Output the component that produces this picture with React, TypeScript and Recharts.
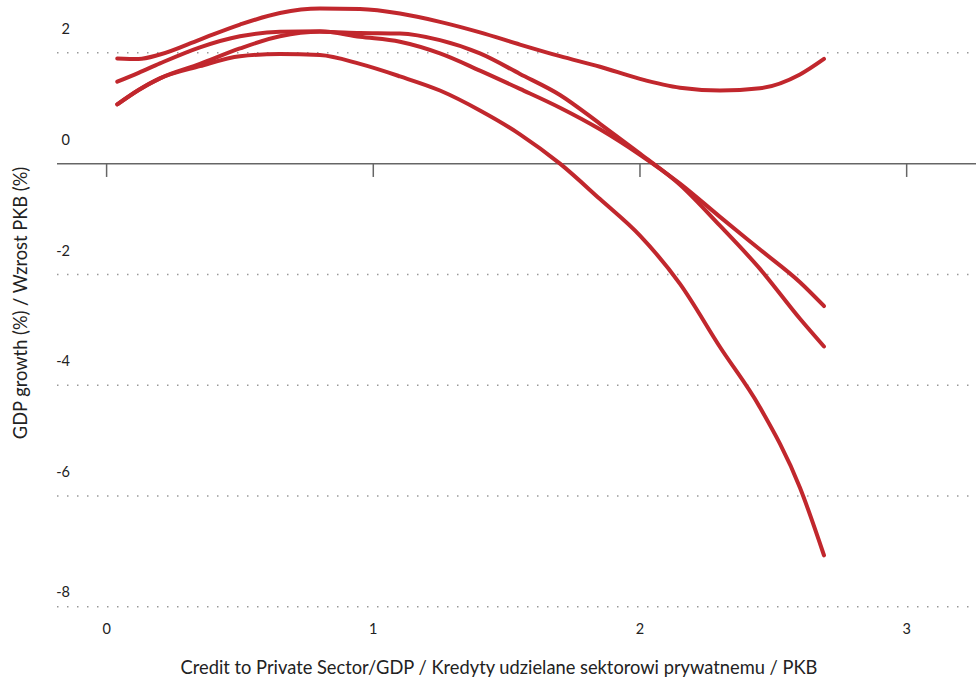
import { Line, LineChart, ReferenceLine, XAxis, YAxis } from 'recharts';

// credit-to-GDP ratio at which each fitted curve is sampled
const creditRatio = [0.04, 0.12, 0.2, 0.35, 0.5, 0.65, 0.8, 0.95, 1.1, 1.25, 1.4, 1.55, 1.7, 1.85, 2.0, 2.15, 2.3, 2.45, 2.6, 2.69];

// GDP growth (%) for the four fitted curves
const curve1 = [1.9, 1.89, 1.97, 2.24, 2.51, 2.72, 2.8, 2.79, 2.71, 2.56, 2.37, 2.15, 1.94, 1.75, 1.53, 1.37, 1.32, 1.36, 1.61, 1.89];
const curve2 = [1.48, 1.64, 1.81, 2.1, 2.3, 2.38, 2.39, 2.29, 2.2, 1.99, 1.68, 1.35, 1.01, 0.62, 0.16, -0.36, -0.96, -1.55, -2.14, -2.57];
const curve3 = [1.07, 1.33, 1.54, 1.8, 2.08, 2.3, 2.38, 2.36, 2.35, 2.23, 1.99, 1.62, 1.24, 0.72, 0.18, -0.38, -1.12, -1.9, -2.8, -3.3];
const curve4 = [1.07, 1.33, 1.54, 1.76, 1.94, 1.98, 1.96, 1.8, 1.575, 1.32, 0.96, 0.53, 0.0, -0.64, -1.3, -2.17, -3.31, -4.4, -5.85, -7.07];

const xTicks = [0, 1, 2, 3];
const yTicks = [-8, -6, -4, -2, 0, 2];
const gridLevels = [-8, -6, -4, -2, 2];

const xTitle = 'Credit to Private Sector/GDP / Kredyty udzielane sektorowi prywatnemu / PKB';
const yTitle = 'GDP growth (%) / Wzrost PKB (%)';

const data = creditRatio.map((x, i) => ({
  x,
  c1: curve1[i],
  c2: curve2[i],
  c3: curve3[i],
  c4: curve4[i],
}));

const RED = '#c1272d';
const FONT = 'Lato, "Open Sans", sans-serif';

// labels sit above their gridline; the lowest one hugs it a bit closer
const YTick = ({ x, y, payload }) => (
  <text
    x={x + 13}
    y={y - (payload.value === yTicks[0] ? 15 : 24)}
    dy="0.35em"
    textAnchor="end"
    fontSize={14.5}
    fontFamily={FONT}
    fill="#222"
  >
    {payload.value}
  </text>
);

const XTick = ({ x, y, payload }) => (
  <text x={x} y={y} dy="0.35em" textAnchor="middle" fontSize={14.5} fontFamily={FONT} fill="#222">
    {payload.value}
  </text>
);

export default function App() {
  return (
    <div style={{ position: 'absolute', left: 0, top: 0, width: 976, height: 679, background: '#fff' }}>
      <LineChart width={976} height={679} data={data} margin={{ top: 3, right: 0, bottom: 20, left: 0 }}>
        <XAxis
          dataKey="x"
          type="number"
          domain={[-0.186, 3.26]}
          allowDataOverflow
          ticks={xTicks}
          axisLine={false}
          tickLine={false}
          tickSize={0}
          tickMargin={0}
          height={30}
          tick={<XTick />}
        />
        <YAxis
          type="number"
          domain={[-8.4, 2.9]}
          allowDataOverflow
          ticks={yTicks}
          axisLine={false}
          tickLine={false}
          tickSize={0}
          tickMargin={0}
          width={57}
          tick={<YTick />}
        />
        {gridLevels.map((v) => (
          <ReferenceLine key={v} y={v} stroke="#999" strokeWidth={1.5} strokeDasharray="1.5 8.5" />
        ))}
        <ReferenceLine y={0} stroke="#666" strokeWidth={1.5} />
        {xTicks.map((t) => (
          <ReferenceLine
            key={t}
            segment={[
              { x: t, y: 0 },
              { x: t, y: -0.24 },
            ]}
            stroke="#666"
            strokeWidth={1.5}
          />
        ))}
        {['c1', 'c2', 'c3', 'c4'].map((k) => (
          <Line
            key={k}
            dataKey={k}
            type="monotone"
            stroke={RED}
            strokeWidth={4}
            strokeLinecap="round"
            dot={false}
            activeDot={false}
            isAnimationActive={false}
          />
        ))}
      </LineChart>
      <div
        style={{
          position: 'absolute',
          left: 0,
          width: 976,
          top: 655,
          textAlign: 'center',
          paddingLeft: 22,
          boxSizing: 'border-box',
          fontFamily: FONT,
          fontSize: 18.3,
          color: '#222',
          lineHeight: '24px',
        }}
      >
        {xTitle}
      </div>
      <div
        style={{
          position: 'absolute',
          left: 20,
          top: 303,
          transform: 'translate(-50%, -50%) rotate(-90deg)',
          whiteSpace: 'nowrap',
          fontFamily: FONT,
          fontSize: 18.3,
          color: '#222',
          lineHeight: '24px',
        }}
      >
        {yTitle}
      </div>
    </div>
  );
}
